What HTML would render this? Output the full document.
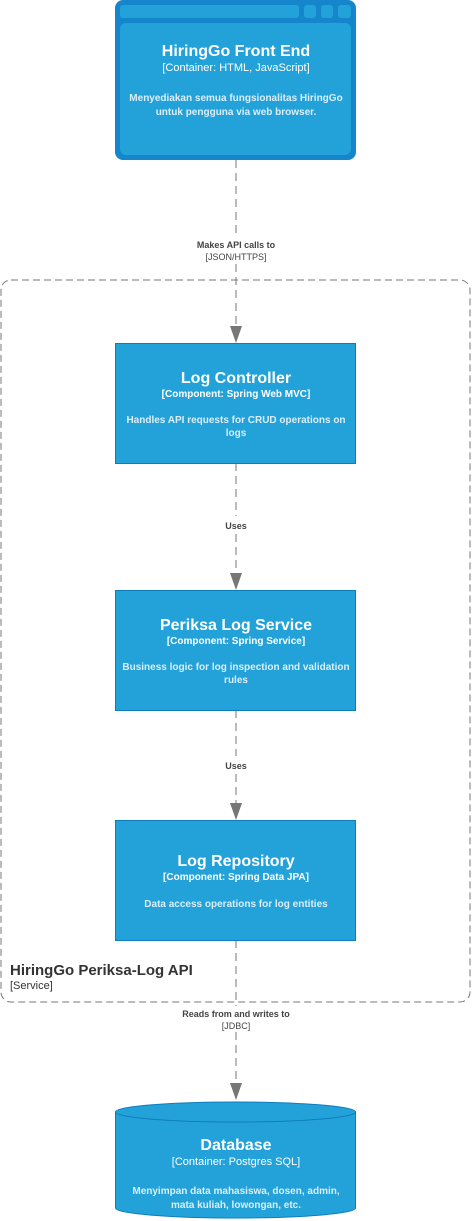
<!DOCTYPE html>
<html><head><style>body{margin:0;background:#fff}svg{display:block}text{font-family:"Liberation Sans",Arial,sans-serif}</style></head><body>
<svg width="472" height="1221" viewBox="0 0 472 1221" xmlns="http://www.w3.org/2000/svg">
<rect x="1" y="280" width="469" height="722" rx="10" fill="none" stroke="#777" stroke-width="1" stroke-dasharray="7,4"/>
<text x="10" y="975" font-size="15" font-weight="bold" fill="#333">HiringGo Periksa-Log API</text>
<text x="10" y="989" font-size="11" fill="#333">[Service]</text>
<g stroke="#777" stroke-width="1" stroke-dasharray="8,5" fill="none">
<line x1="236" y1="160" x2="236" y2="236"/><line x1="236" y1="264" x2="236" y2="330"/>
<line x1="236" y1="463" x2="236" y2="516"/><line x1="236" y1="534" x2="236" y2="577"/>
<line x1="236" y1="710" x2="236" y2="756"/><line x1="236" y1="774" x2="236" y2="807"/>
<line x1="236" y1="940" x2="236" y2="1006"/><line x1="236" y1="1032" x2="236" y2="1087"/>
</g>
<g fill="#777">
<polygon points="230,326 242,326 236,343"/><polygon points="230,573 242,573 236,590"/>
<polygon points="230,803 242,803 236,820"/><polygon points="230,1083 242,1083 236,1100"/>
</g>
<g font-size="9" fill="#444" text-anchor="middle">
<text x="236" y="248" font-weight="bold">Makes API calls to</text><text x="236" y="260">[JSON/HTTPS]</text>
<text x="236" y="529" font-weight="bold">Uses</text>
<text x="236" y="769" font-weight="bold">Uses</text>
<text x="236" y="1017" font-weight="bold">Reads from and writes to</text><text x="236" y="1029">[JDBC]</text>
</g>
<rect x="115" y="0" width="241" height="160" rx="8" fill="#1585CC"/>
<rect x="120" y="5" width="179" height="13" rx="3" fill="#23A2D9"/>
<rect x="304" y="5" width="12" height="13" rx="3" fill="#23A2D9"/>
<rect x="321" y="5" width="12" height="13" rx="3" fill="#23A2D9"/>
<rect x="338" y="5" width="13" height="13" rx="3" fill="#23A2D9"/>
<rect x="120" y="23" width="231" height="132" rx="6" fill="#23A2D9"/>
<g text-anchor="middle" fill="#fff">
<text x="236" y="56" font-size="16" font-weight="bold">HiringGo Front End</text>
<text x="236" y="71" font-size="11">[Container: HTML, JavaScript]</text>
<text x="236" y="101" font-size="10" font-weight="bold" fill="#dbeef8">Menyediakan semua fungsionalitas HiringGo</text>
<text x="236" y="115" font-size="10" font-weight="bold" fill="#dbeef8">untuk pengguna via web browser.</text>
</g>
<g fill="#23A2D9" stroke="#0E7DBE">
<rect x="115.5" y="343.5" width="240" height="120"/>
<rect x="115.5" y="590.5" width="240" height="120"/>
<rect x="115.5" y="820.5" width="240" height="120"/>
<path d="M115.5,1112 L115.5,1208 A120,10 0 0 0 355.5,1208 L355.5,1112 A120,10 0 0 0 115.5,1112 Z"/>
<path d="M115.5,1112 A120,10 0 0 0 355.5,1112" fill="none"/>
</g>
<g text-anchor="middle" fill="#fff">
<text x="236" y="383" font-size="16" font-weight="bold">Log Controller</text>
<text x="236" y="397" font-size="10" font-weight="bold">[Component: Spring Web MVC]</text>
<text x="236" y="423" font-size="10" font-weight="bold" fill="#dbeef8">Handles API requests for CRUD operations on</text>
<text x="236" y="436" font-size="10" font-weight="bold" fill="#dbeef8">logs</text>
<text x="236" y="630" font-size="16" font-weight="bold">Periksa Log Service</text>
<text x="236" y="644" font-size="10" font-weight="bold">[Component: Spring Service]</text>
<text x="236" y="670" font-size="10" font-weight="bold" fill="#dbeef8">Business logic for log inspection and validation</text>
<text x="236" y="683" font-size="10" font-weight="bold" fill="#dbeef8">rules</text>
<text x="236" y="866" font-size="16" font-weight="bold">Log Repository</text>
<text x="236" y="880" font-size="10" font-weight="bold">[Component: Spring Data JPA]</text>
<text x="236" y="907" font-size="10" font-weight="bold" fill="#dbeef8">Data access operations for log entities</text>
<text x="236" y="1150" font-size="16" font-weight="bold">Database</text>
<text x="236" y="1165" font-size="11">[Container: Postgres SQL]</text>
<text x="236" y="1194" font-size="10" font-weight="bold" fill="#dbeef8">Menyimpan data mahasiswa, dosen, admin,</text>
<text x="236" y="1208" font-size="10" font-weight="bold" fill="#dbeef8">mata kuliah, lowongan, etc.</text>
</g>
</svg>
</body></html>
